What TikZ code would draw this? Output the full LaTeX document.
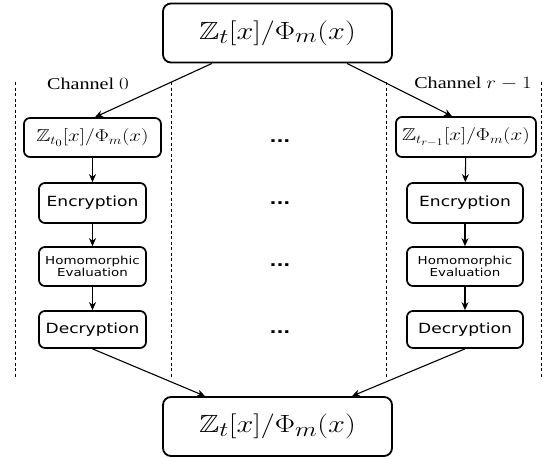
\documentclass[tikz,border=0pt]{standalone}
\usepackage{amsmath,amssymb}
\usepackage{graphicx}
\usepackage{fontspec}
\setmainfont{Liberation Serif}
\newfontfamily\boxfont{DejaVu Sans}
\usetikzlibrary{calc,arrows.meta}
\newcommand{\hwide}[1]{\scalebox{1.22}[1]{#1}}
\tikzset{ringbox/.style={draw,line width=1.8pt,rounded corners=8pt,inner sep=0pt,
    minimum width=229pt,minimum height=59pt,font=\fontsize{24.88}{28}\selectfont},
  stagebox/.style={draw,line width=1.7pt,rounded corners=6pt,inner sep=0pt,align=center,
    font=\boxfont\fontsize{14}{16}\selectfont},
  chanline/.style={dash pattern=on 3pt off 2.5pt,line width=1pt},
  flow/.style={-{Stealth[length=8pt,width=7pt]},line width=1.1pt}}

\begin{document}
\begin{tikzpicture}[x=1pt,y=-1pt]
      \useasboundingbox (0,0) rectangle (552,458);

      \node[ringbox] (top) at (277.5,33) {\hwide{$\mathbb{Z}_t[x]/\Phi_m(x)$}};
      \node[ringbox] (bot) at (277.5,426.5) {\hwide{$\mathbb{Z}_t[x]/\Phi_m(x)$}};

      \draw[chanline] (15,82) -- (15,378);
      \draw[chanline] (171,82) -- (171,378);
      \draw[chanline] (386,82) -- (386,378);
      \draw[chanline] (541,82) -- (541,378);

      \node[font=\fontsize{16.5}{19}\selectfont] (lab0) at (88,84) {\hwide{Channel $0$}};
      \node[font=\fontsize{16.5}{19}\selectfont] (labr) at (473,83) {\hwide{Channel $r-1$}};

      % channel 0
      \node[stagebox,minimum width=137pt,minimum height=39pt,font=\fontsize{17.28}{20}\selectfont]
        (z0) at (92.5,137.5) {\hwide{$\mathbb{Z}_{t_0}[x]/\Phi_m(x)$}};
      \node[stagebox,minimum width=107pt,minimum height=40pt] (e0) at (92.5,203) {\hwide{Encryption}};
      \node[stagebox,minimum width=107pt,minimum height=39pt,font=\boxfont\fontsize{11}{11.5}\selectfont]
        (h0) at (92.5,266.5) {\hwide{Homomorphic}\\\hwide{Evaluation}};
      \node[stagebox,minimum width=107pt,minimum height=37pt] (d0) at (92.5,329.5) {\hwide{Decryption}};

      % channel r-1
      \node[stagebox,minimum width=140pt,minimum height=40pt,font=\fontsize{17.28}{20}\selectfont]
        (zr) at (466,137) {\hwide{$\mathbb{Z}_{t_{r-1}}[x]/\Phi_m(x)$}};
      \node[stagebox,minimum width=116pt,minimum height=40pt] (er) at (465,203) {\hwide{Encryption}};
      \node[stagebox,minimum width=116pt,minimum height=39pt,font=\boxfont\fontsize{11}{11.5}\selectfont]
        (hr) at (465,266.5) {\hwide{Homomorphic}\\\hwide{Evaluation}};
      \node[stagebox,minimum width=116pt,minimum height=37pt] (dr) at (465,329.5) {\hwide{Decryption}};

      \foreach \y [count=\i] in {141,203,265,332}
        \node[font=\boxfont\bfseries\fontsize{15}{18}\selectfont] (dots\i) at (280,\y) {\hwide{...}};

      \draw[flow] ($(top.south)+(-65.5,0)$) -- ($(z0.north)+(2.5,0)$);
      \draw[flow] ($(top.south)+(69.5,0)$) -- ($(zr.north)+(-14,0)$);

      \draw[flow] (z0) -- (e0);
      \draw[flow] (e0) -- (h0);
      \draw[flow] (h0) -- (d0);
      \draw[flow] (zr) -- (er);
      \draw[flow] (er) -- (hr);
      \draw[flow] (hr) -- (dr);

      \draw[flow] (d0.south) -- ($(bot.north)+(-72.5,0)$);
      \draw[flow] (dr.south) -- ($(bot.north)+(74.5,0)$);
    \end{tikzpicture}
\end{document}
